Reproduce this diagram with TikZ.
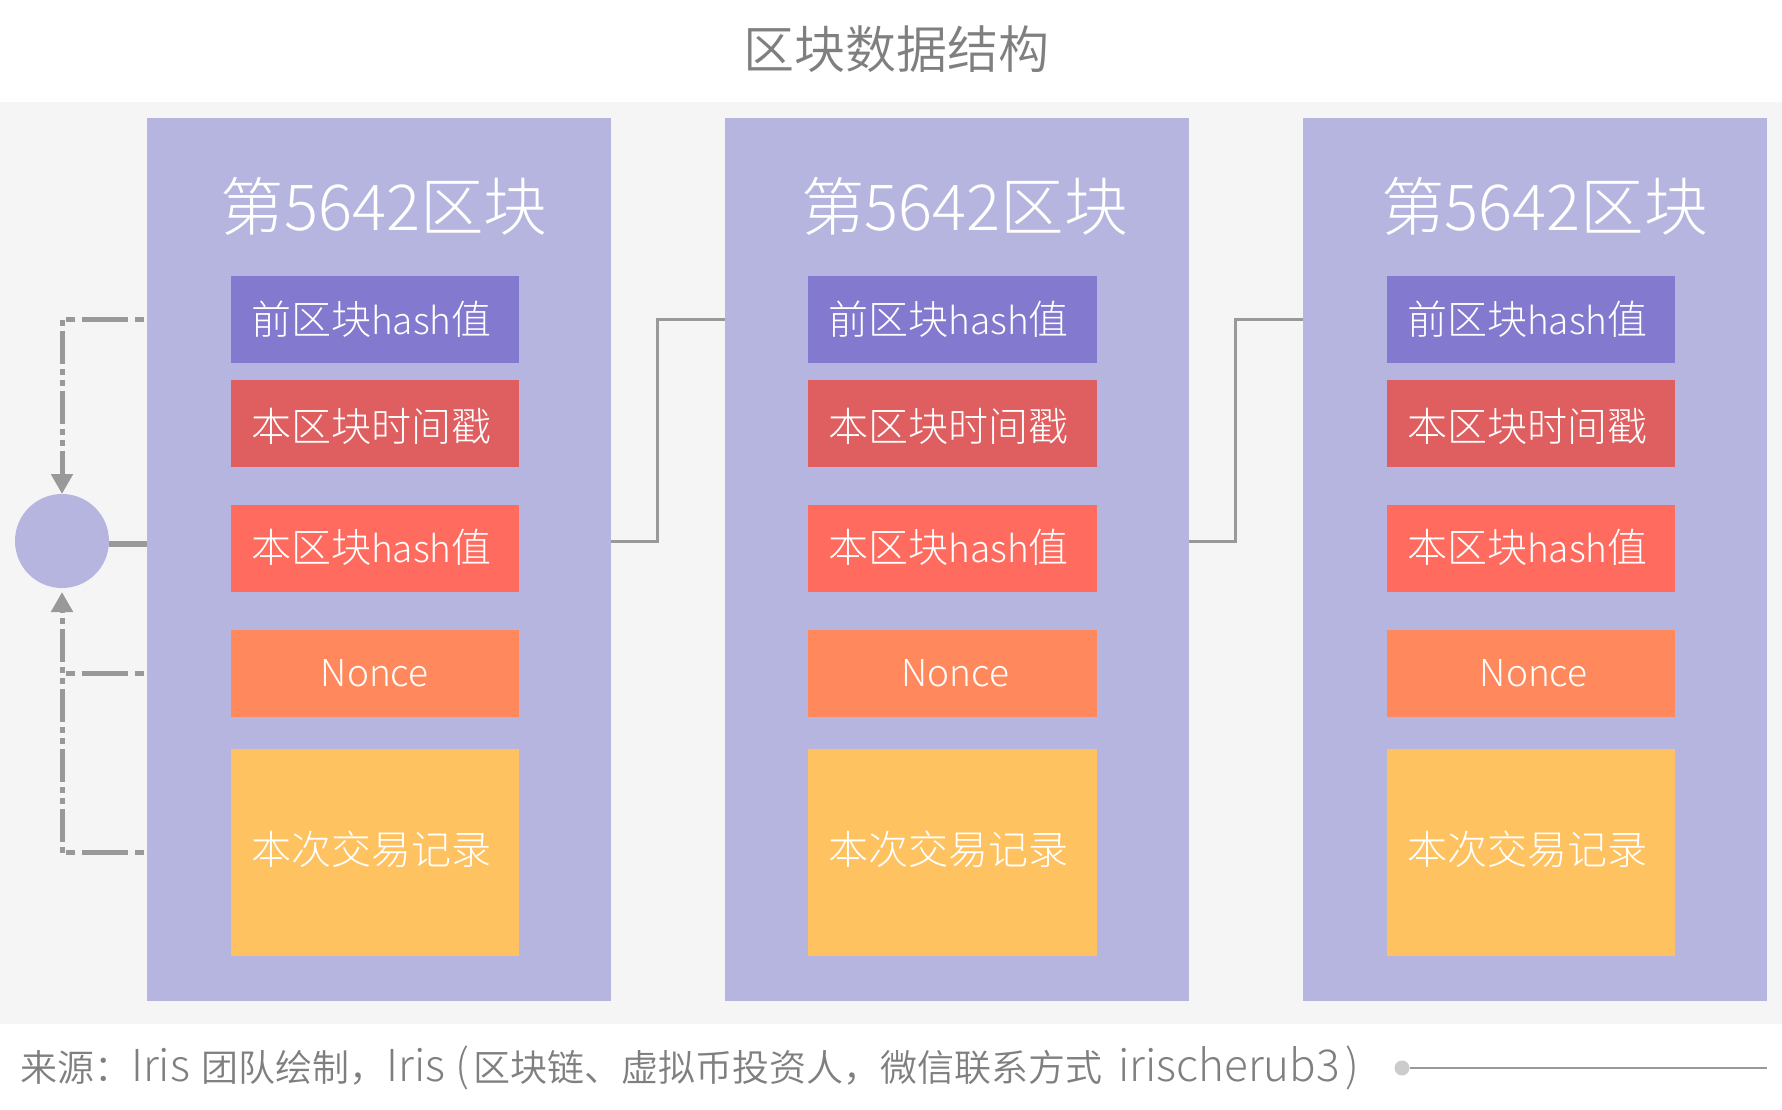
\documentclass[tikz,border=0pt]{standalone}
\usepackage{fontspec}
\setmainfont{Noto Sans CJK SC}[UprightFont=* Light]
\newfontfamily\demi{Noto Sans CJK SC}[UprightFont=* DemiLight]
\usetikzlibrary{positioning,arrows.meta}
\definecolor{panelbg}{HTML}{F5F5F5}
\definecolor{blockc}{HTML}{B5B5DF}
\definecolor{prevc}{HTML}{8379CE}
\definecolor{timec}{HTML}{DF5E60}
\definecolor{hashc}{HTML}{FF6B5E}
\definecolor{noncec}{HTML}{FF885C}
\definecolor{txc}{HTML}{FEC260}
\definecolor{linec}{HTML}{999999}
\definecolor{titlec}{HTML}{7F7F7F}
\newcommand{\fsz}[1]{\fontsize{#1pt}{#1pt}\selectfont}
\newcommand{\lft}[1]{#1\kern7pt}
\newcommand{\hsh}{{\fsz{37}hash}}
\newcommand{\lat}[1]{{\rmfamily\fsz{44}#1}}
\tikzset{block/.style={rectangle,fill=blockc,outer sep=0pt,inner sep=0pt,minimum width=464pt,minimum height=883pt},
	 field/.style={rectangle,outer sep=0pt,inner sep=0pt,minimum width=288.5pt,minimum height=87pt,text=white,text depth=0pt,text height=30pt,font=\fsz{40}},
	 blocktitle/.style={text=white,inner sep=0pt,font=\fsz{63.5}},
	 hub/.style={circle,fill=blockc,inner sep=0pt,outer sep=0pt,minimum size=94pt},
	 solidline/.style={draw=linec,line width=3pt},
	 hdash/.style={draw=linec,line width=5pt,dash pattern=on 9pt off 7pt on 46pt off 7pt on 9pt off 10pt},
	 vdash/.style={draw=linec,line width=5pt,dash pattern=on 6pt off 5pt on 33pt off 5pt on 6pt off 5pt},
	 tip/.style={-{Triangle[length=20pt,width=21pt]}},
	 node distance = 17pt
	 }

\begin{document}
\begin{tikzpicture}[x=1pt,y=-1pt]
	\useasboundingbox (0,0) rectangle (1782,1109);
	\fill[panelbg] (0,102) rectangle (1782,1024);
	\node[text=titlec,inner sep=0pt,font=\demi\fsz{51}] (title) at (896,49) {区块数据结构};
	\node[block] (b1) at (379,559.5) {};
	\node[block] (b2) at (956.5,559.5) {};
	\node[block] (b3) at (1535,559.5) {};
	\node[blocktitle] (t1) at (384,206) {第5642区块};
	\node[blocktitle] (t2) at (964.5,206) {第5642区块};
	\node[blocktitle] (t3) at (1544.5,206) {第5642区块};
	% first block
	\node[field,fill=prevc] (p1) [below right=158pt and 83.5pt of b1.north west] {\lft{前区块\hsh 值}};
	\node[field,fill=timec,text height=36pt] (s1) [below=of p1] {\lft{本区块时间戳}};
	\node[field,fill=hashc,text height=28pt] (h1) [below=37.5pt of s1] {\lft{本区块\hsh 值}};
	\node[field,fill=noncec,text height=27pt,font=\fsz{37}] (n1) [below=38pt of h1] {Nonce};
	\node[field,fill=txc,minimum height=207pt,text height=23pt] (r1) [below=32.5pt of n1] {\lft{本次交易记录}};
	% second block
	\node[field,fill=prevc] (p2) [below right=158pt and 83.5pt of b2.north west] {\lft{前区块\hsh 值}};
	\node[field,fill=timec,text height=36pt] (s2) [below=of p2] {\lft{本区块时间戳}};
	\node[field,fill=hashc,text height=28pt] (h2) [below=37.5pt of s2] {\lft{本区块\hsh 值}};
	\node[field,fill=noncec,text height=27pt,font=\fsz{37}] (n2) [below=38pt of h2] {\kern6pt Nonce};
	\node[field,fill=txc,minimum height=207pt,text height=23pt] (r2) [below=32.5pt of n2] {\lft{本次交易记录}};
	% third block
	\node[field,fill=prevc] (p3) [below right=158pt and 83.5pt of b3.north west] {\lft{前区块\hsh 值}};
	\node[field,fill=timec,text height=36pt] (s3) [below=of p3] {\lft{本区块时间戳}};
	\node[field,fill=hashc,text height=28pt] (h3) [below=37.5pt of s3] {\lft{本区块\hsh 值}};
	\node[field,fill=noncec,text height=27pt,font=\fsz{37}] (n3) [below=38pt of h3] {\kern6pt Nonce};
	\node[field,fill=txc,minimum height=207pt,text height=23pt] (r3) [below=32.5pt of n3] {\lft{本次交易记录}};
	% connectors
	\node[hub] (c) at (62,541) {};
	\coordinate (m1) at (657,541);
	\coordinate (m2) at (1235,541);
	\coordinate (k1) at (c |- p1);
	\coordinate (k2) at (c |- n1);
	\coordinate (k3) at (c |- r1);
	\draw[solidline] (b1.east |- c) -- (m1) |- (b2.west |- p2);
	\draw[solidline] (b2.east |- c) -- (m2) |- (b3.west |- p3);
	\draw[draw=linec,line width=6pt] ([yshift=-3pt]c.east) -- ([yshift=-3pt]c.east -| b1.west);
	\draw[hdash] ([xshift=-3pt]b1.west |- p1) -- (k1);
	\draw[hdash] ([xshift=-3pt]b1.west |- n1) -- (k2);
	\draw[hdash] ([xshift=-3pt]b1.west |- r1) -- (k3);
	\draw[vdash,tip] (k1) -- (c);
	\draw[vdash,tip,shorten >=4pt] (k3) -- (c);
	% footer
	\node[text=titlec,anchor=west,inner sep=0pt,font=\demi\fsz{37}] (src) at (20,1068) {来源：\lat{Iris}\kern3pt{} 团队绘制，\lat{Iris (}\kern5pt 区块链、虚拟币投资人，微信联系方式\kern7pt{} \lat{irischerub3\kern6pt)}};
	\node[circle,fill=black!20,inner sep=0pt,minimum size=15pt] (dot) at (1402,1068) {};
	\coordinate (lineend) at (1767,1068);
	\draw[draw=linec,line width=1.5pt] (dot) -- (lineend);
\end{tikzpicture}
\end{document}
